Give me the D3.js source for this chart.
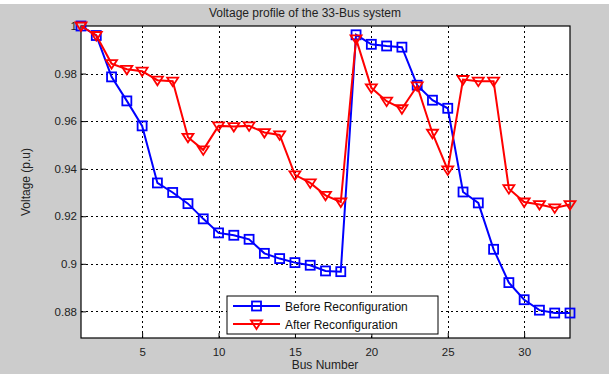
<!DOCTYPE html>
<html>
<head>
<meta charset="utf-8">
<script src="https://cdn.jsdelivr.net/npm/d3@7.9.0/dist/d3.min.js"></script>
<style>
  body { margin: 0; background: #cccccc; }
  svg { display: block; font-family: "Liberation Sans", Arial, sans-serif; }
</style>
</head>
<body>
<svg id="chart" width="609" height="374"></svg>
<script>
// bus numbers 1..33
const buses = d3.range(1, 34);

const beforeVals = [1.0, 0.996, 0.9786, 0.9685, 0.958, 0.934, 0.930, 0.9253, 0.9189, 0.913,
  0.912, 0.9103, 0.9044, 0.9022, 0.9005, 0.8994, 0.897, 0.8967, 0.9963, 0.9923,
  0.9916, 0.9911, 0.9751, 0.9688, 0.9654, 0.9302, 0.9256, 0.9061, 0.8921, 0.8849,
  0.8805, 0.8793, 0.8793];

const afterVals = [1.0, 0.996, 0.9842, 0.9818, 0.981, 0.9772, 0.9768, 0.9532, 0.9479, 0.958,
  0.9577, 0.958, 0.9552, 0.9542, 0.9374, 0.934, 0.9288, 0.926, 0.9946, 0.974,
  0.9684, 0.9652, 0.9748, 0.9549, 0.9395, 0.9775, 0.9768, 0.9768, 0.9316, 0.926,
  0.9249, 0.9235, 0.9249];

const xTicks = [5, 10, 15, 20, 25, 30];
const yTicks = [0.88, 0.9, 0.92, 0.94, 0.96, 0.98, 1];

const series = [
  { name: "Before Reconfiguration", values: beforeVals, color: "#0000ff", marker: "square" },
  { name: "After Reconfiguration", values: afterVals, color: "#ff0000", marker: "tri" }
];

const svg = d3.select("#chart");
const margin = { left: 81, right: 39, top: 26, bottom: 36 };
const W = 609, H = 374;

// white strip at very top (cut-off page caption)
svg.append("rect").attr("x", 0).attr("y", 0).attr("width", W).attr("height", 4).attr("fill", "#fff");

const x = d3.scaleLinear().domain([1, 33]).range([margin.left, W - margin.right]);
const y = d3.scaleLinear().domain([0.8688, 1.0]).range([H - margin.bottom, margin.top]);

// plot area
svg.append("rect")
  .attr("x", x(1)).attr("y", y(1))
  .attr("width", x(33) - x(1)).attr("height", y(0.8688) - y(1))
  .attr("fill", "#fff");

// grid
const grid = svg.append("g").attr("stroke", "#000").attr("stroke-width", 1)
  .attr("stroke-dasharray", "2,3").attr("shape-rendering", "crispEdges");
xTicks.forEach(t => grid.append("line")
  .attr("x1", Math.round(x(t)) + 0.5).attr("x2", Math.round(x(t)) + 0.5)
  .attr("y1", y(1)).attr("y2", y(0.8688)));
yTicks.filter(t => t < 1).forEach(t => grid.append("line")
  .attr("x1", x(1)).attr("x2", x(33))
  .attr("y1", Math.round(y(t)) + 0.5).attr("y2", Math.round(y(t)) + 0.5));

// axes
const xAxis = svg.append("g")
  .attr("transform", `translate(0,${y(0.8688)})`)
  .call(d3.axisBottom(x).tickValues(xTicks).tickSizeInner(-5).tickSizeOuter(0).tickPadding(10));
const yAxis = svg.append("g")
  .attr("transform", `translate(${x(1)},0)`)
  .call(d3.axisLeft(y).tickValues(yTicks).tickFormat(d3.format("~g")).tickSizeInner(-5).tickSizeOuter(0).tickPadding(4));
[xAxis, yAxis].forEach(a => {
  a.selectAll("text").attr("font-size", 11.5).attr("fill", "#222");
  a.select(".domain").remove();
  a.selectAll("line").attr("stroke", "#000");
});

// box
svg.append("rect")
  .attr("x", x(1)).attr("y", y(1))
  .attr("width", x(33) - x(1)).attr("height", y(0.8688) - y(1))
  .attr("fill", "none").attr("stroke", "#000").attr("stroke-width", 1.2);

// marker helpers
function drawMarker(g, kind, cx, cy, color) {
  if (kind === "square") {
    g.append("rect").attr("x", cx - 4.5).attr("y", cy - 4.5)
      .attr("width", 9).attr("height", 9)
      .attr("fill", "none").attr("stroke", color).attr("stroke-width", 1.8);
  } else {
    g.append("path")
      .attr("d", `M${cx - 5.5},${cy - 3.5}L${cx + 5.5},${cy - 3.5}L${cx},${cy + 5}Z`)
      .attr("fill", "none").attr("stroke", color).attr("stroke-width", 1.8)
      .attr("stroke-linejoin", "miter");
  }
}

const line = d3.line().x((d, i) => x(buses[i])).y(d => y(d));

series.forEach(s => {
  const g = svg.append("g");
  g.append("path").datum(s.values)
    .attr("d", line).attr("fill", "none")
    .attr("stroke", s.color).attr("stroke-width", 2);
  s.values.forEach((v, i) => drawMarker(g, s.marker, x(buses[i]), y(v), s.color));
});

// title and labels
svg.append("text").attr("x", 305).attr("y", 17).attr("text-anchor", "middle")
  .attr("font-size", 12).attr("fill", "#222").text("Voltage profile of the 33-Bus system");
svg.append("text").attr("x", 325).attr("y", 369).attr("text-anchor", "middle")
  .attr("font-size", 12).attr("fill", "#222").text("Bus Number");
svg.append("text").attr("transform", "translate(30,182) rotate(-90)").attr("text-anchor", "middle")
  .attr("font-size", 12).attr("fill", "#222").text("Voltage (p.u)");

// legend
const lg = svg.append("g");
lg.append("rect").attr("x", 227).attr("y", 296).attr("width", 211).attr("height", 38)
  .attr("fill", "#fff").attr("stroke", "#000").attr("stroke-width", 1);
series.forEach((s, i) => {
  const ly = 306 + i * 18;
  lg.append("line").attr("x1", 233).attr("x2", 280).attr("y1", ly).attr("y2", ly)
    .attr("stroke", s.color).attr("stroke-width", 2);
  drawMarker(lg, s.marker, 256.5, ly, s.color);
  lg.append("text").attr("x", 285).attr("y", ly + 4.5)
    .attr("font-size", 12).attr("fill", "#111").text(s.name);
});
</script>
</body>
</html>
